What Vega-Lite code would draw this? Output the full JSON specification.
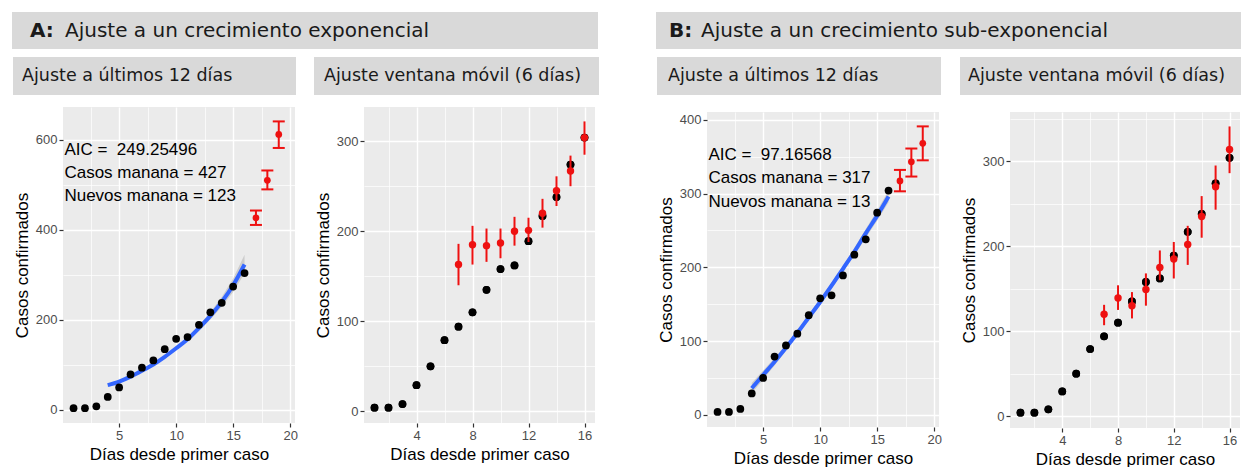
{
  "$schema": "https://vega.github.io/schema/vega-lite/v6.json",
  "background": "white",
  "padding": {"left": 12, "top": 12, "right": 0, "bottom": 0},
  "spacing": 57,
  "datasets": {
    "vacio": [],
    "observados": [
      {"dia": 1, "casos": 4}, {"dia": 2, "casos": 4}, {"dia": 3, "casos": 8},
      {"dia": 4, "casos": 29}, {"dia": 5, "casos": 50}, {"dia": 6, "casos": 79},
      {"dia": 7, "casos": 94}, {"dia": 8, "casos": 110}, {"dia": 9, "casos": 135},
      {"dia": 10, "casos": 158}, {"dia": 11, "casos": 162}, {"dia": 12, "casos": 189},
      {"dia": 13, "casos": 217}, {"dia": 14, "casos": 238}, {"dia": 15, "casos": 274},
      {"dia": 16, "casos": 304}
    ],
    "ajusteA1": [
      {"dia": 4, "casos": 55, "inf": 51, "sup": 59},
      {"dia": 5, "casos": 63, "inf": 60, "sup": 66},
      {"dia": 6, "casos": 74, "inf": 71, "sup": 77},
      {"dia": 7, "casos": 87, "inf": 84, "sup": 90},
      {"dia": 8, "casos": 101, "inf": 98, "sup": 104},
      {"dia": 9, "casos": 118, "inf": 115, "sup": 121},
      {"dia": 10, "casos": 137, "inf": 133, "sup": 141},
      {"dia": 11, "casos": 157, "inf": 153, "sup": 162},
      {"dia": 12, "casos": 182, "inf": 176, "sup": 188},
      {"dia": 13, "casos": 209, "inf": 201, "sup": 217},
      {"dia": 14, "casos": 240, "inf": 229, "sup": 251},
      {"dia": 15, "casos": 277, "inf": 262, "sup": 292},
      {"dia": 16, "casos": 323, "inf": 303, "sup": 345}
    ],
    "prediccionA1": [
      {"dia": 17, "casos": 427, "inf": 411, "sup": 443},
      {"dia": 18, "casos": 510, "inf": 490, "sup": 532},
      {"dia": 19, "casos": 612, "inf": 582, "sup": 641}
    ],
    "textoA1": [
      {"dia": 0.2, "casos": 578, "texto": "AIC = \u00a0249.25496"},
      {"dia": 0.2, "casos": 527, "texto": "Casos manana = 427"},
      {"dia": 0.2, "casos": 476, "texto": "Nuevos manana = 123"}
    ],
    "ventanaA2": [
      {"dia": 7, "casos": 163, "inf": 140, "sup": 186},
      {"dia": 8, "casos": 185, "inf": 163, "sup": 206},
      {"dia": 9, "casos": 184, "inf": 166, "sup": 203},
      {"dia": 10, "casos": 187, "inf": 170, "sup": 203},
      {"dia": 11, "casos": 200, "inf": 184, "sup": 216},
      {"dia": 12, "casos": 201, "inf": 188, "sup": 215},
      {"dia": 13, "casos": 220, "inf": 204, "sup": 236},
      {"dia": 14, "casos": 245, "inf": 228, "sup": 261},
      {"dia": 15, "casos": 267, "inf": 250, "sup": 284},
      {"dia": 16, "casos": 304, "inf": 285, "sup": 322}
    ],
    "ajusteB1": [
      {"dia": 4, "casos": 36, "inf": 29, "sup": 43},
      {"dia": 5, "casos": 54, "inf": 48, "sup": 60},
      {"dia": 6, "casos": 72, "inf": 67, "sup": 77},
      {"dia": 7, "casos": 91, "inf": 87, "sup": 95},
      {"dia": 8, "casos": 111, "inf": 107, "sup": 115},
      {"dia": 9, "casos": 132, "inf": 128, "sup": 136},
      {"dia": 10, "casos": 153, "inf": 149, "sup": 157},
      {"dia": 11, "casos": 175, "inf": 171, "sup": 179},
      {"dia": 12, "casos": 198, "inf": 194, "sup": 202},
      {"dia": 13, "casos": 221, "inf": 216, "sup": 226},
      {"dia": 14, "casos": 246, "inf": 240, "sup": 252},
      {"dia": 15, "casos": 270, "inf": 263, "sup": 277},
      {"dia": 16, "casos": 296, "inf": 288, "sup": 304}
    ],
    "prediccionB1": [
      {"dia": 17, "casos": 317, "inf": 303, "sup": 332},
      {"dia": 18, "casos": 343, "inf": 323, "sup": 361},
      {"dia": 19, "casos": 368, "inf": 345, "sup": 391}
    ],
    "textoB1": [
      {"dia": 0.2, "casos": 352, "texto": "AIC = \u00a097.16568"},
      {"dia": 0.2, "casos": 321, "texto": "Casos manana = 317"},
      {"dia": 0.2, "casos": 289, "texto": "Nuevos manana = 13"}
    ],
    "ventanaB2": [
      {"dia": 7, "casos": 120, "inf": 107, "sup": 131},
      {"dia": 8, "casos": 139, "inf": 125, "sup": 154},
      {"dia": 9, "casos": 130, "inf": 115, "sup": 146},
      {"dia": 10, "casos": 149, "inf": 130, "sup": 168},
      {"dia": 11, "casos": 175, "inf": 160, "sup": 195},
      {"dia": 12, "casos": 185, "inf": 162, "sup": 205},
      {"dia": 13, "casos": 202, "inf": 178, "sup": 224},
      {"dia": 14, "casos": 235, "inf": 210, "sup": 259},
      {"dia": 15, "casos": 270, "inf": 243, "sup": 295},
      {"dia": 16, "casos": 314, "inf": 286, "sup": 341}
    ]
  },
  "hconcat": [
    {
      "vconcat": [
        {
          "width": 586, "height": 37,
          "view": {"fill": "#D9D9D9", "stroke": null},
          "data": {"values": [{"etiqueta": "A:", "titulo": "Ajuste a un crecimiento exponencial"}]},
          "layer": [
            {"mark": {"type": "text", "align": "left", "baseline": "middle", "font": "DejaVu Sans", "fontSize": 20, "fontWeight": "bold", "color": "#1A1A1A", "dx": 18},
             "encoding": {"x": {"datum": 0, "type": "quantitative", "scale": {"domain": [0, 1]}, "axis": null}, "y": {"datum": 0.5, "type": "quantitative", "scale": {"domain": [0, 1]}, "axis": null}, "text": {"field": "etiqueta"}}},
            {"mark": {"type": "text", "align": "left", "baseline": "middle", "font": "DejaVu Sans", "fontSize": 20, "color": "#1A1A1A", "dx": 53},
             "encoding": {"x": {"datum": 0, "type": "quantitative", "scale": {"domain": [0, 1]}, "axis": null}, "y": {"datum": 0.5, "type": "quantitative", "scale": {"domain": [0, 1]}, "axis": null}, "text": {"field": "titulo"}}}
          ]
        },
        {
          "hconcat": [
            {
              "vconcat": [
                {
                  "hconcat": [
                    {"width": 1, "height": 1, "view": {"fill": null, "stroke": null}, "data": {"name": "vacio"}, "mark": "point", "encoding": {}},
                    {
                      "width": 283, "height": 38,
                      "view": {"fill": "#D9D9D9", "stroke": null},
                      "data": {"values": [{"titulo": "Ajuste a últimos 12 días"}]},
                      "mark": {"type": "text", "align": "left", "baseline": "middle", "font": "DejaVu Sans", "fontSize": 17.5, "color": "#1A1A1A", "dx": 9},
                      "encoding": {"x": {"datum": 0, "type": "quantitative", "scale": {"domain": [0, 1]}, "axis": null}, "y": {"datum": 0.5, "type": "quantitative", "scale": {"domain": [0, 1]}, "axis": null}, "text": {"field": "titulo"}}
                    }
                  ],
                  "spacing": 0
                },
                {
                  "hconcat": [
                    {"width": 1, "height": 1, "view": {"fill": null, "stroke": null}, "data": {"name": "vacio"}, "mark": "point", "encoding": {}},
                    {
                      "width": 232, "height": 316,
                      "resolve": {"axis": {"x": "independent", "y": "independent"}},
                      "layer": [
                        {"data": {"name": "ajusteA1"}, "mark": {"type": "area", "color": "#A6A6A6", "opacity": 0.45},
                         "encoding": {
                           "x": {"field": "dia", "type": "quantitative", "scale": {"domain": [0.075, 20.425], "nice": false, "zero": false}, "axis": {"orient": "top", "values": [2.5, 7.5, 12.5, 17.5], "grid": true, "gridWidth": 0.7, "labels": false, "ticks": false, "domain": false, "title": null}},
                           "y": {"field": "inf", "type": "quantitative", "scale": {"domain": [-29, 673], "nice": false, "zero": false}, "axis": {"orient": "right", "values": [100, 300, 500], "grid": true, "gridWidth": 0.7, "labels": false, "ticks": false, "domain": false, "title": null}},
                           "y2": {"field": "sup"}}},
                        {"data": {"name": "ajusteA1"}, "mark": {"type": "line", "color": "#3366FF", "strokeWidth": 4, "interpolate": "monotone"},
                         "encoding": {"x": {"field": "dia", "type": "quantitative", "axis": null}, "y": {"field": "casos", "type": "quantitative", "axis": null}}},
                        {"data": {"name": "observados"}, "mark": {"type": "circle", "color": "#000000", "opacity": 1, "size": 60},
                         "encoding": {"x": {"field": "dia", "type": "quantitative", "axis": {"values": [5, 10, 15, 20], "title": "Días desde primer caso", "grid": true}},
                                      "y": {"field": "casos", "type": "quantitative", "axis": {"values": [0, 200, 400, 600], "title": "Casos confirmados", "grid": true}}}},
                        {"data": {"name": "prediccionA1"}, "mark": {"type": "rule", "color": "#EE1111", "strokeWidth": 2},
                         "encoding": {"x": {"field": "dia", "type": "quantitative", "axis": null}, "y": {"field": "inf", "type": "quantitative", "axis": null}, "y2": {"field": "sup"}}},
                        {"data": {"name": "prediccionA1"}, "mark": {"type": "tick", "orient": "horizontal", "color": "#EE1111", "opacity": 1, "size": 12, "thickness": 2},
                         "encoding": {"x": {"field": "dia", "type": "quantitative", "axis": null}, "y": {"field": "inf", "type": "quantitative", "axis": null}}},
                        {"data": {"name": "prediccionA1"}, "mark": {"type": "tick", "orient": "horizontal", "color": "#EE1111", "opacity": 1, "size": 12, "thickness": 2},
                         "encoding": {"x": {"field": "dia", "type": "quantitative", "axis": null}, "y": {"field": "sup", "type": "quantitative", "axis": null}}},
                        {"data": {"name": "prediccionA1"}, "mark": {"type": "circle", "color": "#EE1111", "opacity": 1, "size": 45},
                         "encoding": {"x": {"field": "dia", "type": "quantitative", "axis": null}, "y": {"field": "casos", "type": "quantitative", "axis": null}}},
                        {"data": {"name": "textoA1"}, "mark": {"type": "text", "align": "left", "baseline": "middle", "font": "Liberation Sans", "fontSize": 17, "color": "#000000"},
                         "encoding": {"x": {"field": "dia", "type": "quantitative", "axis": null}, "y": {"field": "casos", "type": "quantitative", "axis": null}, "text": {"field": "texto"}}}
                      ]
                    }
                  ],
                  "spacing": 0
                }
              ],
              "spacing": 12
            },
            {
              "vconcat": [
                {
                  "hconcat": [
                    {"width": 1, "height": 1, "view": {"fill": null, "stroke": null}, "data": {"name": "vacio"}, "mark": "point", "encoding": {}},
                    {
                      "width": 285, "height": 38,
                      "view": {"fill": "#D9D9D9", "stroke": null},
                      "data": {"values": [{"titulo": "Ajuste ventana móvil (6 días)"}]},
                      "mark": {"type": "text", "align": "left", "baseline": "middle", "font": "DejaVu Sans", "fontSize": 17.5, "color": "#1A1A1A", "dx": 10},
                      "encoding": {"x": {"datum": 0, "type": "quantitative", "scale": {"domain": [0, 1]}, "axis": null}, "y": {"datum": 0.5, "type": "quantitative", "scale": {"domain": [0, 1]}, "axis": null}, "text": {"field": "titulo"}}
                    }
                  ],
                  "spacing": 0
                },
                {
                  "hconcat": [
                    {"width": 1, "height": 1, "view": {"fill": null, "stroke": null}, "data": {"name": "vacio"}, "mark": "point", "encoding": {}},
                    {
                      "width": 231, "height": 316,
                      "resolve": {"axis": {"x": "independent", "y": "independent"}},
                      "layer": [
                        {"data": {"name": "observados"}, "mark": {"type": "circle", "color": "#000000", "opacity": 1, "size": 60},
                         "encoding": {
                           "x": {"field": "dia", "type": "quantitative", "scale": {"domain": [0.25, 16.75], "nice": false, "zero": false}, "axis": {"orient": "top", "values": [2, 6, 10, 14], "grid": true, "gridWidth": 0.7, "labels": false, "ticks": false, "domain": false, "title": null}},
                           "y": {"field": "casos", "type": "quantitative", "scale": {"domain": [-13, 338], "nice": false, "zero": false}, "axis": {"orient": "right", "values": [50, 150, 250], "grid": true, "gridWidth": 0.7, "labels": false, "ticks": false, "domain": false, "title": null}}}},
                        {"data": {"name": "observados"}, "mark": {"type": "circle", "color": "#000000", "opacity": 1, "size": 60},
                         "encoding": {"x": {"field": "dia", "type": "quantitative", "axis": {"values": [4, 8, 12, 16], "title": "Días desde primer caso", "grid": true}},
                                      "y": {"field": "casos", "type": "quantitative", "axis": {"values": [0, 100, 200, 300], "title": "Casos confirmados", "grid": true}}}},
                        {"data": {"name": "ventanaA2"}, "mark": {"type": "rule", "color": "#EE1111", "strokeWidth": 2},
                         "encoding": {"x": {"field": "dia", "type": "quantitative", "axis": null}, "y": {"field": "inf", "type": "quantitative", "axis": null}, "y2": {"field": "sup"}}},
                        {"data": {"name": "ventanaA2"}, "mark": {"type": "circle", "color": "#EE1111", "opacity": 1, "size": 55},
                         "encoding": {"x": {"field": "dia", "type": "quantitative", "axis": null}, "y": {"field": "casos", "type": "quantitative", "axis": null}}}
                      ]
                    }
                  ],
                  "spacing": 0
                }
              ],
              "spacing": 12
            }
          ],
          "spacing": 15
        }
      ],
      "spacing": 8
    },
    {
      "vconcat": [
        {
          "width": 585, "height": 37,
          "view": {"fill": "#D9D9D9", "stroke": null},
          "data": {"values": [{"etiqueta": "B:", "titulo": "Ajuste a un crecimiento sub-exponencial"}]},
          "layer": [
            {"mark": {"type": "text", "align": "left", "baseline": "middle", "font": "DejaVu Sans", "fontSize": 20, "fontWeight": "bold", "color": "#1A1A1A", "dx": 13},
             "encoding": {"x": {"datum": 0, "type": "quantitative", "scale": {"domain": [0, 1]}, "axis": null}, "y": {"datum": 0.5, "type": "quantitative", "scale": {"domain": [0, 1]}, "axis": null}, "text": {"field": "etiqueta"}}},
            {"mark": {"type": "text", "align": "left", "baseline": "middle", "font": "DejaVu Sans", "fontSize": 20, "color": "#1A1A1A", "dx": 45},
             "encoding": {"x": {"datum": 0, "type": "quantitative", "scale": {"domain": [0, 1]}, "axis": null}, "y": {"datum": 0.5, "type": "quantitative", "scale": {"domain": [0, 1]}, "axis": null}, "text": {"field": "titulo"}}}
          ]
        },
        {
          "hconcat": [
            {
              "vconcat": [
                {
                  "hconcat": [
                    {"width": 1, "height": 1, "view": {"fill": null, "stroke": null}, "data": {"name": "vacio"}, "mark": "point", "encoding": {}},
                    {
                      "width": 284, "height": 38,
                      "view": {"fill": "#D9D9D9", "stroke": null},
                      "data": {"values": [{"titulo": "Ajuste a últimos 12 días"}]},
                      "mark": {"type": "text", "align": "left", "baseline": "middle", "font": "DejaVu Sans", "fontSize": 17.5, "color": "#1A1A1A", "dx": 11},
                      "encoding": {"x": {"datum": 0, "type": "quantitative", "scale": {"domain": [0, 1]}, "axis": null}, "y": {"datum": 0.5, "type": "quantitative", "scale": {"domain": [0, 1]}, "axis": null}, "text": {"field": "titulo"}}
                    }
                  ],
                  "spacing": 0
                },
                {
                  "hconcat": [
                    {"width": 1, "height": 1, "view": {"fill": null, "stroke": null}, "data": {"name": "vacio"}, "mark": "point", "encoding": {}},
                    {
                      "width": 232, "height": 315,
                      "resolve": {"axis": {"x": "independent", "y": "independent"}},
                      "layer": [
                        {"data": {"name": "ajusteB1"}, "mark": {"type": "area", "color": "#A6A6A6", "opacity": 0.45},
                         "encoding": {
                           "x": {"field": "dia", "type": "quantitative", "scale": {"domain": [0.075, 20.425], "nice": false, "zero": false}, "axis": {"orient": "top", "values": [2.5, 7.5, 12.5, 17.5], "grid": true, "gridWidth": 0.7, "labels": false, "ticks": false, "domain": false, "title": null}},
                           "y": {"field": "inf", "type": "quantitative", "scale": {"domain": [-16.5, 410.5], "nice": false, "zero": false}, "axis": {"orient": "right", "values": [50, 150, 250, 350], "grid": true, "gridWidth": 0.7, "labels": false, "ticks": false, "domain": false, "title": null}},
                           "y2": {"field": "sup"}}},
                        {"data": {"name": "ajusteB1"}, "mark": {"type": "line", "color": "#3366FF", "strokeWidth": 4, "interpolate": "monotone"},
                         "encoding": {"x": {"field": "dia", "type": "quantitative", "axis": null}, "y": {"field": "casos", "type": "quantitative", "axis": null}}},
                        {"data": {"name": "observados"}, "mark": {"type": "circle", "color": "#000000", "opacity": 1, "size": 60},
                         "encoding": {"x": {"field": "dia", "type": "quantitative", "axis": {"values": [5, 10, 15, 20], "title": "Días desde primer caso", "grid": true}},
                                      "y": {"field": "casos", "type": "quantitative", "axis": {"values": [0, 100, 200, 300, 400], "title": "Casos confirmados", "grid": true}}}},
                        {"data": {"name": "prediccionB1"}, "mark": {"type": "rule", "color": "#EE1111", "strokeWidth": 2},
                         "encoding": {"x": {"field": "dia", "type": "quantitative", "axis": null}, "y": {"field": "inf", "type": "quantitative", "axis": null}, "y2": {"field": "sup"}}},
                        {"data": {"name": "prediccionB1"}, "mark": {"type": "tick", "orient": "horizontal", "color": "#EE1111", "opacity": 1, "size": 12, "thickness": 2},
                         "encoding": {"x": {"field": "dia", "type": "quantitative", "axis": null}, "y": {"field": "inf", "type": "quantitative", "axis": null}}},
                        {"data": {"name": "prediccionB1"}, "mark": {"type": "tick", "orient": "horizontal", "color": "#EE1111", "opacity": 1, "size": 12, "thickness": 2},
                         "encoding": {"x": {"field": "dia", "type": "quantitative", "axis": null}, "y": {"field": "sup", "type": "quantitative", "axis": null}}},
                        {"data": {"name": "prediccionB1"}, "mark": {"type": "circle", "color": "#EE1111", "opacity": 1, "size": 45},
                         "encoding": {"x": {"field": "dia", "type": "quantitative", "axis": null}, "y": {"field": "casos", "type": "quantitative", "axis": null}}},
                        {"data": {"name": "textoB1"}, "mark": {"type": "text", "align": "left", "baseline": "middle", "font": "Liberation Sans", "fontSize": 17, "color": "#000000"},
                         "encoding": {"x": {"field": "dia", "type": "quantitative", "axis": null}, "y": {"field": "casos", "type": "quantitative", "axis": null}, "text": {"field": "texto"}}}
                      ]
                    }
                  ],
                  "spacing": 0
                }
              ],
              "spacing": 17
            },
            {
              "vconcat": [
                {
                  "hconcat": [
                    {"width": 1, "height": 1, "view": {"fill": null, "stroke": null}, "data": {"name": "vacio"}, "mark": "point", "encoding": {}},
                    {
                      "width": 281, "height": 38,
                      "view": {"fill": "#D9D9D9", "stroke": null},
                      "data": {"values": [{"titulo": "Ajuste ventana móvil (6 días)"}]},
                      "mark": {"type": "text", "align": "left", "baseline": "middle", "font": "DejaVu Sans", "fontSize": 17.5, "color": "#1A1A1A", "dx": 8},
                      "encoding": {"x": {"datum": 0, "type": "quantitative", "scale": {"domain": [0, 1]}, "axis": null}, "y": {"datum": 0.5, "type": "quantitative", "scale": {"domain": [0, 1]}, "axis": null}, "text": {"field": "titulo"}}
                    }
                  ],
                  "spacing": 0
                },
                {
                  "hconcat": [
                    {"width": 1, "height": 1, "view": {"fill": null, "stroke": null}, "data": {"name": "vacio"}, "mark": "point", "encoding": {}},
                    {
                      "width": 230, "height": 316,
                      "resolve": {"axis": {"x": "independent", "y": "independent"}},
                      "layer": [
                        {"data": {"name": "observados"}, "mark": {"type": "circle", "color": "#000000", "opacity": 1, "size": 60},
                         "encoding": {
                           "x": {"field": "dia", "type": "quantitative", "scale": {"domain": [0.25, 16.75], "nice": false, "zero": false}, "axis": {"orient": "top", "values": [2, 6, 10, 14], "grid": true, "gridWidth": 0.7, "labels": false, "ticks": false, "domain": false, "title": null}},
                           "y": {"field": "casos", "type": "quantitative", "scale": {"domain": [-14, 358], "nice": false, "zero": false}, "axis": {"orient": "right", "values": [50, 150, 250, 350], "grid": true, "gridWidth": 0.7, "labels": false, "ticks": false, "domain": false, "title": null}}}},
                        {"data": {"name": "observados"}, "mark": {"type": "circle", "color": "#000000", "opacity": 1, "size": 60},
                         "encoding": {"x": {"field": "dia", "type": "quantitative", "axis": {"values": [4, 8, 12, 16], "title": "Días desde primer caso", "grid": true}},
                                      "y": {"field": "casos", "type": "quantitative", "axis": {"values": [0, 100, 200, 300], "title": "Casos confirmados", "grid": true}}}},
                        {"data": {"name": "ventanaB2"}, "mark": {"type": "rule", "color": "#EE1111", "strokeWidth": 2},
                         "encoding": {"x": {"field": "dia", "type": "quantitative", "axis": null}, "y": {"field": "inf", "type": "quantitative", "axis": null}, "y2": {"field": "sup"}}},
                        {"data": {"name": "ventanaB2"}, "mark": {"type": "circle", "color": "#EE1111", "opacity": 1, "size": 55},
                         "encoding": {"x": {"field": "dia", "type": "quantitative", "axis": null}, "y": {"field": "casos", "type": "quantitative", "axis": null}}}
                      ]
                    }
                  ],
                  "spacing": 0
                }
              ],
              "spacing": 17
            }
          ],
          "spacing": 17
        }
      ],
      "spacing": 8
    }
  ],
  "config": {
    "font": "Liberation Sans",
    "view": {"fill": "#EBEBEB", "stroke": null},
    "axis": {
      "domain": false,
      "gridColor": "#FFFFFF",
      "gridWidth": 1.4,
      "tickColor": "#333333",
      "tickSize": 4,
      "tickWidth": 1.2,
      "labelColor": "#4D4D4D",
      "labelFont": "Liberation Sans",
      "labelFontSize": 13,
      "labelPadding": 2,
      "labelFlush": false,
      "labelOverlap": false,
      "titleFont": "Liberation Sans",
      "titleFontSize": 17,
      "titleFontWeight": "normal",
      "titleColor": "#000000",
      "titlePadding": 4
    }
  }
}
